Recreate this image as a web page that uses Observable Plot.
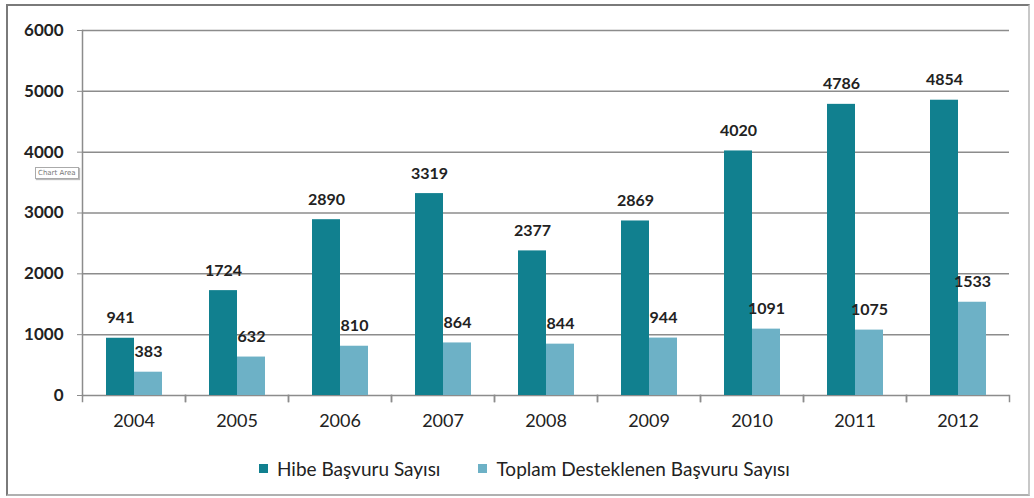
<!DOCTYPE html>
<html>
<head>
<meta charset="utf-8">
<script src="https://cdn.jsdelivr.net/npm/d3@7"></script>
<script src="https://cdn.jsdelivr.net/npm/@observablehq/plot@0.6"></script>
<style>
  html, body { margin: 0; padding: 0; background: #fff; width: 1034px; height: 498px; overflow: hidden; }
  #frame { position: absolute; left: 6px; top: 4px; width: 1020px; height: 488px; border: 2px solid #7a7a7a; border-right-color: #c8c8c8; border-bottom-color: #b0b0b0; }
  #chart { position: absolute; left: 0; top: 0; }
  #legend { position: absolute; left: 259px; top: 457px; height: 22px; display: flex; align-items: center; font-family: Lato, "Open Sans", sans-serif; font-size: 19px; color: #222; white-space: nowrap; }
  .item { display: flex; align-items: center; margin-right: 38px; }
  .sw { width: 9px; height: 9px; margin-right: 9px; }
  #tip { position: absolute; left: 35px; top: 167px; border: 1px solid #aaa; background: #fff; font: 7px "DejaVu Sans", sans-serif; color: #777; padding: 1px 2px; box-shadow: 1px 1px 1px #bbb; }
</style>
</head>
<body>
<div id="frame"></div>
<div id="chart"></div>
<div id="legend"></div>
<div id="tip">Chart Area</div>
<script>
const years = ["2004","2005","2006","2007","2008","2009","2010","2011","2012"];
const seriesNames = ["Hibe Başvuru Sayısı", "Toplam Desteklenen Başvuru Sayısı"];
const hibe = [941, 1724, 2890, 3319, 2377, 2869, 4020, 4786, 4854];
const toplam = [383, 632, 810, 864, 844, 944, 1091, 1075, 1533];
const yTicks = [0, 1000, 2000, 3000, 4000, 5000, 6000];
const colors = ["#11808f", "#6db1c6"];

const data = years.flatMap((y, i) => [
  {year: y, series: seriesNames[0], value: hibe[i]},
  {year: y, series: seriesNames[1], value: toplam[i]}
]);

const grid = "#8c8c8c";

const chart = Plot.plot({
  width: 1034,
  height: 440,
  marginLeft: 82,
  marginRight: 25,
  marginTop: 30,
  marginBottom: 45,
  style: {fontFamily: "Lato, 'Open Sans', sans-serif", background: "transparent", color: "#222"},
  fx: {domain: years, padding: 0, label: null},
  x: {domain: seriesNames, paddingInner: 0, paddingOuter: 0.78, axis: null},
  y: {domain: [0, 6000], label: null},
  color: {domain: seriesNames, range: colors},
  marks: [
    Plot.ruleY(yTicks, {stroke: grid, strokeWidth: 1.5}),
    Plot.barY(data, {fx: "year", x: "series", y: "value", fill: "series"}),
    Plot.text(data, {fx: "year", x: "series", y: "value", text: d => String(d.value), dy: -20, fontSize: 16, fontWeight: "bold", fill: "#222"}),
    Plot.frame({anchor: "left", facetAnchor: "left", stroke: grid, strokeWidth: 1.5}),
    Plot.frame({anchor: "left", insetTop: 365, insetBottom: -6, stroke: grid, strokeWidth: 1.5}),
    Plot.frame({anchor: "right", insetTop: 365, insetBottom: -6, stroke: grid, strokeWidth: 1.5}),
    Plot.axisY({ticks: yTicks, tickSize: 5, tickPadding: 14, fontSize: 17, fontWeight: "bold", stroke: grid, tickFormat: d => String(d), label: null}),
    Plot.axisFx({anchor: "bottom", tickSize: 0, tickPadding: 19, fontSize: 18, label: null})
  ]
});
document.getElementById("chart").appendChild(chart);

const legend = document.getElementById("legend");
seriesNames.forEach((name, i) => {
  const item = document.createElement("div");
  item.className = "item";
  const sw = document.createElement("span");
  sw.className = "sw";
  sw.style.background = colors[i];
  const label = document.createElement("span");
  label.textContent = name;
  item.appendChild(sw);
  item.appendChild(label);
  legend.appendChild(item);
});
</script>
</body>
</html>
